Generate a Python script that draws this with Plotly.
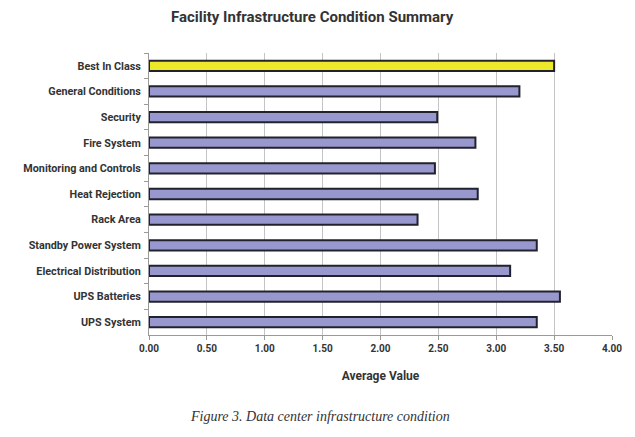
import plotly.graph_objects as go

categories = ["Best In Class", "General Conditions", "Security", "Fire System",
              "Monitoring and Controls", "Heat Rejection", "Rack Area",
              "Standby Power System", "Electrical Distribution", "UPS Batteries",
              "UPS System"]
values = [3.50, 3.20, 2.49, 2.82, 2.47, 2.84, 2.32, 3.35, 3.12, 3.55, 3.35]
bar_colors = ["#EEE82A"] + ["#9898CE"] * 10
x_ticks = [0, 0.5, 1.0, 1.5, 2.0, 2.5, 3.0, 3.5, 4.0]
x_tick_labels = ["0.00", "0.50", "1.00", "1.50", "2.00", "2.50", "3.00", "3.50", "4.00"]

fig = go.Figure(go.Bar(
    y=categories, x=values, orientation="h",
    marker=dict(color=bar_colors, line=dict(color="#22222E", width=2)),
    width=0.4,
))

# page body has an 8px default margin; figure sized to fit the window
OFF = 8
W, H = 635 - OFF, 437 - OFF
ml, mr, mt, mb = 149 - OFF, 23, 53 - OFF, 102
pw, ph = W - ml - mr, H - mt - mb
fig.update_layout(
    width=W, height=H,
    margin=dict(l=ml, r=mr, t=mt, b=mb, autoexpand=False),
    paper_bgcolor="white", plot_bgcolor="white",
    showlegend=False,
    font=dict(family="Roboto", size=10, color="#333333"),
    xaxis=dict(
        range=[0, 4], tickvals=x_ticks, ticktext=x_tick_labels,
        showgrid=True, gridcolor="#C4C4C4", gridwidth=1,
        showline=True, linecolor="#9A9A9A", linewidth=1,
        ticks="outside", ticklen=4, tickcolor="#9A9A9A",
        zeroline=False, automargin=False,
        tickfont=dict(family="Roboto", size=10, color="#333333", weight="bold"),
        title=dict(text="Average Value", standoff=18,
                   font=dict(family="Roboto", size=12, color="#333333", weight="bold")),
    ),
    yaxis=dict(
        autorange="reversed", categoryorder="array", categoryarray=categories,
        showline=True, linecolor="#9A9A9A", linewidth=1,
        ticks="outside", ticklen=4, tickcolor="#9A9A9A", tickson="boundaries",
        showgrid=False, ticklabelstandoff=5, automargin=False,
        tickfont=dict(family="Roboto", size=10.8, color="#333333", weight="bold"),
    ),
    annotations=[
        dict(text="Facility Infrastructure Condition Summary", xref="paper", yref="paper",
             x=(312 - OFF - ml) / pw, y=1 + (mt - (17 - OFF)) / ph,
             xanchor="center", yanchor="middle", showarrow=False,
             font=dict(family="Roboto", size=15, color="#333333", weight="bold")),
        dict(text="<i>Figure 3. Data center infrastructure condition</i>", xref="paper", yref="paper",
             x=(320 - OFF - ml) / pw, y=-((416 - OFF) - (H - mb)) / ph,
             xanchor="center", yanchor="middle", showarrow=False,
             font=dict(family="Liberation Serif", size=14, color="#333333", weight="normal")),
    ],
)

fig.write_html("out.html")
